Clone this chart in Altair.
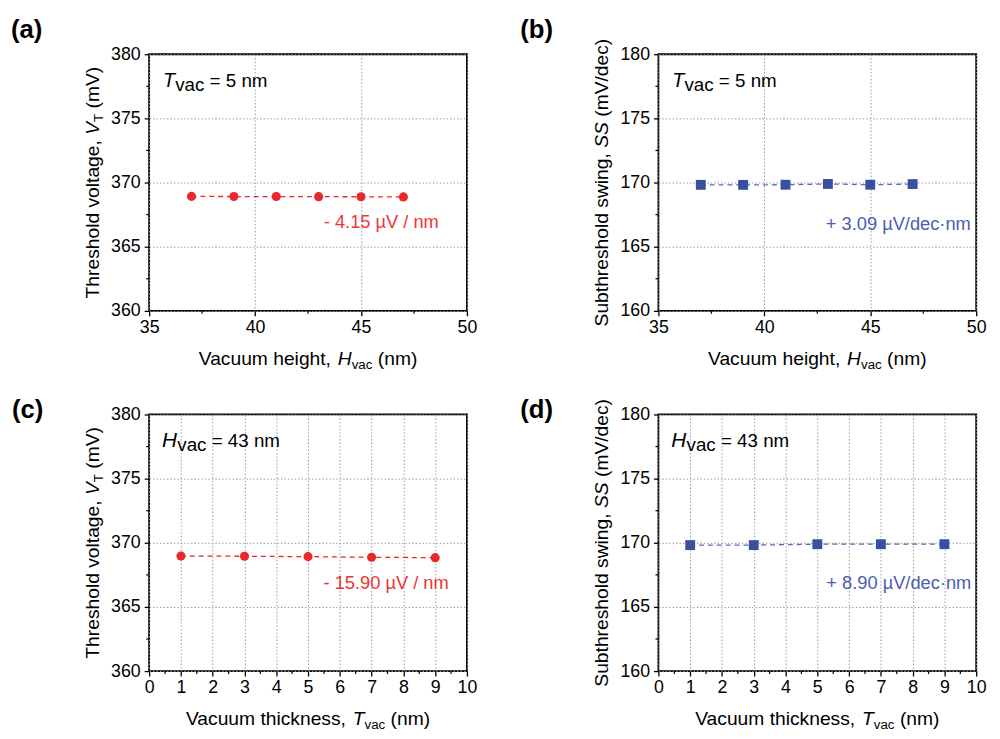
import altair as alt
import pandas as pd

# ---------------- data ----------------
H_vac = [37, 39, 41, 43, 45, 47]
VT_vs_H = [368.92, 368.91, 368.91, 368.90, 368.89, 368.88]
SS_vs_H = [169.82, 169.82, 169.83, 169.89, 169.83, 169.88]
T_vac = [1, 3, 5, 7, 9]
VT_vs_T = [368.97, 368.95, 368.92, 368.87, 368.84]
SS_vs_T = [169.82, 169.82, 169.89, 169.89, 169.89]

H_ticks = [35, 40, 45, 50]
H_minor = [37.5, 42.5, 47.5]
T_ticks = [0, 1, 2, 3, 4, 5, 6, 7, 8, 9, 10]
T_minor = [0.5, 1.5, 2.5, 3.5, 4.5, 5.5, 6.5, 7.5, 8.5, 9.5]
VT_ticks = [360, 365, 370, 375, 380]
VT_minor = [362.5, 367.5, 372.5, 377.5]
SS_ticks = [160, 165, 170, 175, 180]
SS_minor = [162.5, 167.5, 172.5, 177.5]

panel_labels = ["(a)", "(b)", "(c)", "(d)"]
slope_labels = ["- 4.15 µV / nm", "+ 3.09 µV/dec·nm", "- 15.90 µV / nm", "+ 8.90 µV/dec·nm"]

# ---------------- styling ----------------
FONT = "Liberation Sans"
RED = "#E8282B"
RED_TXT = "#EE3535"
BLUE = "#3B4FA0"
BLUE_LINE = "#5A6BB5"
BLUE_TXT = "#4A5DB0"
PW, PH = 322, 260
TS = 19.5   # axis title size
SUB = 13.5  # subscript size

_W = {' ': 278, '(': 333, ')': 333, ',': 278, '-': 333, '.': 278, '/': 278,
      '=': 584, '+': 584, '·': 278, 'µ': 576}
for _d in "0123456789":
    _W[_d] = 556
_W.update(dict(A=667, B=667, C=722, D=722, E=667, F=611, G=778, H=722, I=278, J=500,
               K=667, L=556, M=833, N=722, O=778, P=667, Q=778, R=722, S=667, T=611,
               U=722, V=667, W=944, X=667, Y=667, Z=611))
_W.update(dict(a=556, b=556, c=500, d=556, e=556, f=278, g=556, h=556, i=222, j=222,
               k=500, l=222, m=833, n=556, o=556, p=556, q=556, r=333, s=500, t=278,
               u=556, v=500, w=722, x=500, y=500, z=500))


def tw(s, size):
    return sum(_W.get(ch, 556) for ch in s) * size / 1000.0


def txt(s, x, y, size, style="normal", weight="normal", angle=0, color="black", align="left"):
    return alt.Chart(alt.InlineData(values=[{"k": 0}])).mark_text(
        text=s, font=FONT, fontSize=size, fontStyle=style, fontWeight=weight,
        angle=angle, align=align, baseline="alphabetic", color=color
    ).encode(x=alt.value(x), y=alt.value(y))


def rich(pieces, x, y, vertical=False):
    total = sum(tw(p[0], p[1]) for p in pieces)
    pos = -total / 2.0
    out = []
    for t, size, style, shift in pieces:
        lead = len(t) - len(t.lstrip(" "))
        s = t.strip()
        off = pos + lead * 278 * size / 1000.0
        if vertical:
            out.append(txt(s, x + shift, y - off, size, style, angle=270))
        else:
            out.append(txt(s, x + off, y + shift, size, style))
        pos += tw(t, size)
    return out


def corner(letter, lx, lsize, subx, rest):
    out = [txt(letter, lx, 33, lsize, "italic"),
           txt("vac", subx, 37.5, 19)]
    out.append(txt(rest, subx + tw("vac ", 19), 33, 19))
    return out


def panel(xv, yv, xdom, xticks, xminor, ydom, yticks, yminor, mcolor, lcolor, shape, msize,
          label, lab_xy, corner_layers, note, note_xy, note_color, xtitle, ytitle):
    df = pd.DataFrame({"x": xv, "y": yv})
    xs = alt.Scale(domain=xdom, nice=False, zero=False)
    ys = alt.Scale(domain=ydom, nice=False, zero=False)
    xax = alt.Axis(values=xticks, title=None, format="d", labelPadding=3)
    yax = alt.Axis(values=yticks, title=None, format="d", labelPadding=4)
    base = alt.Chart(df).encode(
        x=alt.X("x:Q", scale=xs, axis=xax),
        y=alt.Y("y:Q", scale=ys, axis=yax),
    )
    line = base.mark_line(color=lcolor, strokeDash=[5, 4], strokeWidth=1.3)
    pts = base.mark_point(shape=shape, filled=True, size=msize, color=mcolor, opacity=1)
    mx = alt.Chart(pd.DataFrame({"x": xminor})).mark_rule(color="black", strokeWidth=1.2).encode(
        x=alt.X("x:Q", scale=xs, axis=xax), y=alt.value(PH), y2=alt.value(PH + 3))
    my = alt.Chart(pd.DataFrame({"y": yminor})).mark_rule(color="black", strokeWidth=1.2).encode(
        y=alt.Y("y:Q", scale=ys, axis=yax), x=alt.value(0), x2=alt.value(-3))
    layers = [line, pts, mx, my]
    layers.append(txt(label, lab_xy[0], lab_xy[1], 26, weight="bold"))
    layers += corner_layers
    layers.append(txt(note, note_xy[0], note_xy[1], 18.5, color=note_color, align="right"))
    layers += rich(xtitle, PW / 2.0, 315)
    layers += rich(ytitle, -51, PH / 2.0, vertical=True)
    return alt.layer(*layers).properties(width=PW, height=PH)


xt_H = [("Vacuum height, ", TS, "normal", 0), ("H", TS, "italic", 0),
        ("vac", SUB, "normal", 4), (" (nm)", TS, "normal", 0)]
xt_T = [("Vacuum thickness, ", TS, "normal", 0), ("T", TS, "italic", 0),
        ("vac", SUB, "normal", 4), (" (nm)", TS, "normal", 0)]
yt_VT = [("Threshold voltage, ", TS, "normal", 0), ("V", TS, "italic", 0),
         ("T", SUB, "normal", 4), (" (mV)", TS, "normal", 0)]
yt_SS = [("Subthreshold swing, ", TS, "normal", 0), ("SS", TS, "italic", 0),
         (" (mV/dec)", TS, "normal", 0)]

pa = panel(H_vac, VT_vs_H, [35, 50], H_ticks, H_minor, [360, 380], VT_ticks, VT_minor,
           RED, RED, "circle", 85, panel_labels[0], (-140, -16.2),
           corner("T", 14, 20, 26.4, "= 5 nm"), slope_labels[0], (293.5, 176.5), RED_TXT, xt_H, yt_VT)
pb = panel(H_vac, SS_vs_H, [35, 50], H_ticks, H_minor, [160, 180], SS_ticks, SS_minor,
           BLUE, BLUE_LINE, "square", 100, panel_labels[1], (-140, -16.2),
           corner("T", 14, 20, 26.4, "= 5 nm"), slope_labels[1], (316.5, 178.5), BLUE_TXT, xt_H, yt_SS)
pc = panel(T_vac, VT_vs_T, [0, 10], T_ticks, T_minor, [360, 380], VT_ticks, VT_minor,
           RED, RED, "circle", 85, panel_labels[2], (-139, 3.6),
           corner("H", 13, 21, 28.5, "= 43 nm"), slope_labels[2], (303.5, 177), RED_TXT, xt_T, yt_VT)
pd_ = panel(T_vac, SS_vs_T, [0, 10], T_ticks, T_minor, [160, 180], SS_ticks, SS_minor,
            BLUE, BLUE_LINE, "square", 100, panel_labels[3], (-140, 3.6),
            corner("H", 13, 21, 28.5, "= 43 nm"), slope_labels[3], (317, 177), BLUE_TXT, xt_T, yt_SS)

chart = alt.concat(pa, pb, pc, pd_, columns=2, spacing={"row": 105, "column": 194},
                   bounds="flush").properties(
    padding={"left": 2, "top": 3, "right": 5, "bottom": 5}
).configure_view(stroke="black", strokeWidth=1.8).configure_axis(
    labelFont=FONT, labelFontSize=18, labelColor="black", tickColor="black", tickWidth=1.3,
    tickSize=5, domain=False, grid=True, gridColor="#999999", gridDash=[1.5, 2], gridWidth=1,
    labelFlush=False, labelOverlap=False
)

chart.save("out.html", embed_options={"renderer": "svg", "actions": False})
